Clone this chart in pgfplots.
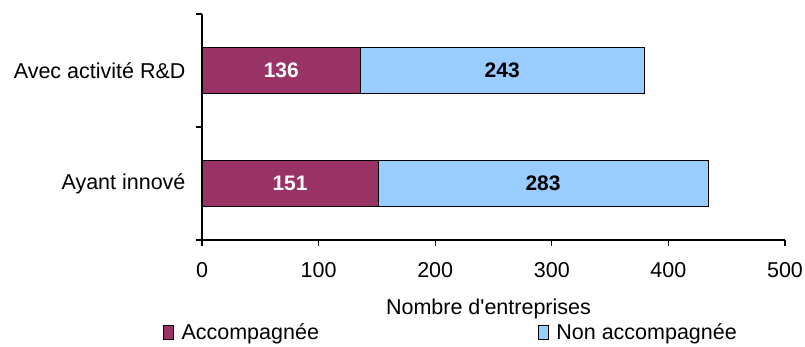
\documentclass[border=0pt]{standalone}
\usepackage{fontspec}
\setmainfont{Liberation Sans}
\usepackage{pgfplots}
\pgfplotsset{compat=1.18}
\usepackage{pgfplotstable}

\definecolor{accomp}{HTML}{993366}
\definecolor{nonaccomp}{HTML}{99CCFF}

\pgfplotsset{
  boxlegend/.style={legend image code/.code={%
    \draw[##1, line width=0.8bp] (0bp,-7bp) rectangle (10bp,7bp);
    \path[draw=none, fill=none] (0bp,0bp) -- (16bp,0bp);}},
}

% pos: vertical slot of the category; acc / non: number of firms
\pgfplotstableread{
pos acc non
0.5 151 283
1.5 136 243
}\entreprises

\begin{document}
\begin{tikzpicture}[font=\fontsize{21.5bp}{25bp}\selectfont]
\useasboundingbox (0,0) rectangle (805bp,347bp);
\begin{axis}[
  at={(202bp,107bp)}, anchor=south west,
  scale only axis, width=583bp, height=226bp,
  xbar stacked, bar width=0.407,
  xmin=0, xmax=500, ymin=0, ymax=2,
  axis x line*=bottom, axis y line*=left,
  axis line style={line width=1.3bp, black},
  tick style={line width=1.1bp, black},
  tick align=outside, major tick length=6bp,
  xtick={0,100,...,500},
  /pgf/number format/assume math mode=true,
  xticklabel style={anchor=center, inner sep=0pt, yshift=-24bp},
  ytick={0,1,2}, yticklabels={},
  extra y ticks={0.5,1.5},
  extra y tick labels={Ayant innové,Avec activité R\&D},
  extra y tick style={major tick length=0pt, yticklabel style={xshift=-13bp}},
  xlabel={Nombre d\textquotesingle entreprises},
  xlabel style={at={(axis description cs:0.5,0)}, anchor=center, yshift=-69bp, xshift=-5bp},
  nodes near coords,
  every node near coord/.append style={anchor=center, font=\fontsize{21bp}{25bp}\selectfont\bfseries},
  legend columns=2,
  legend style={draw=none, fill=none, inner sep=0pt, at={(-0.067,-0.41)}, anchor=west,
    /tikz/every even column/.append style={column sep=217bp}},
]
\addplot[fill=accomp, draw=black, line width=0.8bp, boxlegend,
  every node near coord/.append style={text=white}]
  table[x=acc, y=pos] {\entreprises};
\addlegendentry{Accompagnée}
\addplot[fill=nonaccomp, draw=black, line width=0.8bp, boxlegend,
  every node near coord/.append style={text=black}]
  table[x=non, y=pos] {\entreprises};
\addlegendentry{Non accompagnée}
\end{axis}
\end{tikzpicture}
\end{document}
